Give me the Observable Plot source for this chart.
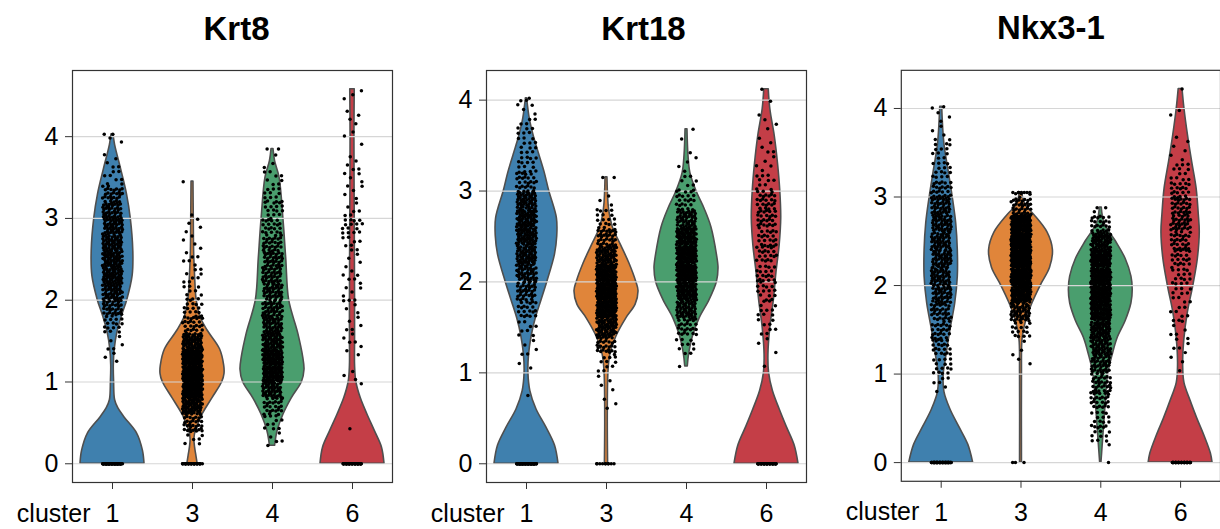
<!DOCTYPE html>
<html><head><meta charset="utf-8">
<script src="https://cdn.jsdelivr.net/npm/d3@7"></script>
<script src="https://cdn.jsdelivr.net/npm/@observablehq/plot@0.6"></script>
<style>
body{margin:0;background:#fff;width:1220px;height:529px;overflow:hidden;position:relative;font-family:"Liberation Sans",Arial,sans-serif}
.panel{position:absolute;top:0}
</style></head><body>
<div id="p0" class="panel" style="left:0px"></div>
<div id="p1" class="panel" style="left:410px"></div>
<div id="p2" class="panel" style="left:820px"></div>
<script>
// ---- categories / labels ----
const genes = ["Krt8", "Krt18", "Nkx3-1"];
const clusters = ["1", "3", "4", "6"];
const groupLabel = "cluster";
const yTicks = [0, 1, 2, 3, 4];
const colors = ["#3f80ae", "#e0853a", "#4a9e6e", "#c43e47"];

// ---- violin outlines: [expression, relative half-width] ----
const krt8Violins = [
  [[0,1.0],[0.16,0.95],[0.37,0.77],[0.57,0.37],[0.68,0.18],[0.78,0.08],[1.0,0.05],[1.2,0.04],[1.4,0.07],[1.6,0.15],[1.8,0.29],[2.0,0.46],[2.3,0.63],[2.6,0.65],[3.0,0.57],[3.3,0.45],[3.6,0.27],[3.9,0.08],[4.03,0.03]],
  [[0,0.16],[0.1,0.12],[0.2,0.08],[0.3,0.06],[0.4,0.1],[0.5,0.2],[0.6,0.31],[0.8,0.62],[1.0,0.93],[1.1,1.0],[1.2,0.99],[1.4,0.86],[1.63,0.47],[1.8,0.24],[2.0,0.13],[2.3,0.08],[2.6,0.05],[3.0,0.04],[3.45,0.03]],
  [[0.22,0.08],[0.4,0.16],[0.6,0.34],[0.8,0.6],[1.0,0.92],[1.15,1.0],[1.3,0.96],[1.6,0.8],[2.0,0.52],[2.5,0.43],[3.0,0.34],[3.5,0.22],[3.7,0.08],[3.85,0.03]],
  [[0,1.0],[0.2,0.92],[0.4,0.7],[0.6,0.47],[0.8,0.26],[1.0,0.12],[1.2,0.08],[1.5,0.08],[2.0,0.08],[3.0,0.07],[4.0,0.06],[4.58,0.07]]
];
const krt18Violins = [
  [[0,1.0],[0.2,0.89],[0.4,0.62],[0.6,0.31],[0.8,0.12],[1.0,0.06],[1.2,0.08],[1.4,0.16],[1.6,0.29],[1.8,0.47],[2.0,0.65],[2.3,0.89],[2.5,0.96],[2.7,0.95],[3.0,0.71],[3.2,0.57],[3.4,0.4],[3.6,0.23],[3.8,0.1],[4.02,0.02]],
  [[0,0.05],[0.5,0.04],[1.0,0.06],[1.2,0.12],[1.4,0.31],[1.6,0.62],[1.75,0.91],[1.9,1.0],[2.0,0.93],[2.2,0.72],[2.4,0.46],[2.6,0.2],[2.8,0.08],[3.15,0.03]],
  [[1.07,0.04],[1.2,0.08],[1.4,0.2],[1.6,0.41],[1.8,0.72],[2.0,0.95],[2.15,1.0],[2.3,0.95],[2.6,0.78],[2.8,0.57],[3.0,0.31],[3.2,0.12],[3.4,0.06],[3.68,0.03]],
  [[0,1.0],[0.2,0.88],[0.4,0.64],[0.6,0.41],[0.8,0.2],[1.0,0.08],[1.2,0.06],[1.5,0.12],[1.8,0.23],[2.1,0.31],[2.4,0.41],[2.7,0.46],[3.0,0.43],[3.3,0.36],[3.6,0.26],[3.9,0.12],[4.12,0.07]]
];
const nkxViolins = [
  [[0,1.0],[0.2,0.85],[0.4,0.57],[0.6,0.29],[0.8,0.1],[1.0,0.08],[1.2,0.16],[1.5,0.29],[1.8,0.44],[2.1,0.52],[2.4,0.52],[2.7,0.47],[3.0,0.36],[3.3,0.23],[3.6,0.1],[4.02,0.03]],
  [[0,0.03],[1.0,0.03],[1.4,0.05],[1.6,0.16],[1.8,0.36],[2.0,0.62],[2.2,0.91],[2.4,1.0],[2.6,0.83],[2.8,0.41],[2.9,0.16],[3.05,0.03]],
  [[0,0.02],[0.2,0.06],[0.4,0.1],[0.7,0.16],[1.0,0.23],[1.2,0.36],[1.4,0.52],[1.6,0.78],[1.8,0.96],[1.95,1.0],[2.1,0.96],[2.3,0.78],[2.5,0.47],[2.7,0.12],[2.88,0.03]],
  [[0,1.0],[0.1,0.95],[0.3,0.75],[0.5,0.52],[0.7,0.31],[0.9,0.12],[1.1,0.08],[1.4,0.12],[1.7,0.23],[2.0,0.4],[2.3,0.54],[2.6,0.6],[2.8,0.57],[3.1,0.5],[3.4,0.36],[3.7,0.23],[4.0,0.12],[4.22,0.06]]
];

// ---- cell dots: counts per 0.2-wide bin (from bin start), plus cells at exactly 0 ----
const binWidth = 0.2;
const krt8DotStart = [1.2, 0.2, 0.2, 0.4];
const krt8DotCounts = [
  [3,5,15,35,45,55,55,50,45,40,30,8,5,2,2],
  [8,30,60,90,100,90,60,25,15,10,8,6,4,4,1,0,1],
  [5,10,25,45,70,70,55,45,40,40,38,35,30,20,15,12,8,3,2],
  [1,0,1,3,2,5,5,5,5,6,4,8,15,6,5,5,4,1,3,3,3]
];
const krt8Zeros = [60, 30, 0, 40];
const krt18DotStart = [0.6, 0.6, 1.0, 1.0];
const krt18DotCounts = [
  [1,0,2,5,8,20,35,45,55,60,60,50,25,15,12,10,6,1],
  [3,4,10,30,60,90,100,90,60,35,15,3,2],
  [1,10,25,50,70,85,85,70,45,20,8,4,2,1],
  [1,3,8,10,15,18,20,20,25,25,10,5,5,3,2,1]
];
const krt18Zeros = [60, 10, 0, 40];
const nkxDotStart = [0.8, 1.0, 0.2, 1.0];
const nkxDotCounts = [
  [6,15,20,25,30,40,45,45,45,45,40,25,15,10,6,3,2],
  [2,3,15,45,80,110,130,120,90,35,10],
  [12,15,25,30,40,50,60,80,90,90,80,60,25,3],
  [3,5,6,8,10,15,20,25,35,30,20,10,4,2,2,0,1]
];
const nkxZeros = [60, 3, 1, 40];

const geneViolins = [krt8Violins, krt18Violins, nkxViolins];
const geneDotStart = [krt8DotStart, krt18DotStart, nkxDotStart];
const geneDotCounts = [krt8DotCounts, krt18DotCounts, nkxDotCounts];
const geneZeros = [krt8Zeros, krt18Zeros, nkxZeros];

// ---- layout (styling only) ----
const layout = [
  {id: "p0", width: 410, ml: 72, mr: 18, tdx: 4},
  {id: "p1", width: 410, ml: 76, mr: 14, tdx: -3},
  {id: "p2", width: 401, ml: 81, mr: 0, tdx: -10}
];

const frac = v => v - Math.floor(v);
const jitterHalf = 0.125;
const halfWidth = 0.4;

function buildDots(gi) {
  const out = [];
  let k = 0;
  geneDotCounts[gi].forEach((counts, ci) => {
    const prof = geneViolins[gi][ci];
    const lo = prof[0][0], hi = prof[prof.length - 1][0];
    const start = geneDotStart[gi][ci];
    counts.forEach((n, b) => {
      for (let i = 0; i < n; i++) {
        k++;
        let v = start + binWidth * (b + frac(k * 0.7548776662));
        v = Math.max(lo, Math.min(hi, v));
        out.push({ci, x: ci + (frac(k * 0.5698402910) - 0.5) * 2 * jitterHalf, y: v});
      }
    });
    for (let i = 0; i < geneZeros[gi][ci]; i++) {
      k++;
      out.push({ci, x: ci + (frac(k * 0.5698402910) - 0.5) * 2 * jitterHalf, y: 0});
    }
  });
  return out;
}

function panel(gi) {
  const L = layout[gi];
  const profiles = geneViolins[gi];
  const ymax = d3.max(profiles.flat(), d => d[0]);
  const violins = profiles.flatMap((p, ci) => p.map(([v, w]) => ({ci, v, w})));
  const dots = buildDots(gi);
  return Plot.plot({
    width: L.width, height: 529,
    marginLeft: L.ml, marginRight: L.mr, marginTop: 70, marginBottom: 47,
    x: {domain: [-0.5, 3.5], label: null},
    y: {domain: [-0.05 * ymax, 1.05 * ymax], label: null},
    color: {type: "ordinal", domain: [0, 1, 2, 3], range: colors},
    style: {fontFamily: '"Liberation Sans", Arial, sans-serif', fontSize: "25px", color: "#000", background: "transparent", overflow: "visible"},
    marks: [
      Plot.areaX(violins, {
        y: "v",
        x1: d => d.ci - d.w * halfWidth,
        x2: d => d.ci + d.w * halfWidth,
        z: "ci", fill: "ci", stroke: "#4f4f4f", strokeWidth: 1.6,
        curve: "catmull-rom"
      }),
      Plot.gridY({ticks: yTicks, stroke: "#d6d6d6", strokeOpacity: 1, strokeWidth: 1.2}),
      Plot.dot(dots, {x: "x", y: "y", r: 1.75, fill: "#000", stroke: null}),
      Plot.frame({stroke: "#333", strokeWidth: 1.2}),
      Plot.axisY({ticks: yTicks, tickFormat: d => String(d), tickSize: 7, tickPadding: 7, fontSize: 25, label: null, stroke: "#333"}),
      Plot.axisX({ticks: [0, 1, 2, 3], tickFormat: i => clusters[i], tickSize: 7, tickPadding: 15, fontSize: 25, label: null, stroke: "#333"}),
      Plot.text([groupLabel], {x: [0], frameAnchor: "bottom", lineAnchor: "bottom", dy: 39, dx: -22, textAnchor: "end", fontSize: 25, fill: "#000"}),
      Plot.text([genes[gi]], {frameAnchor: "top", lineAnchor: "bottom", dy: -31, dx: L.tdx, fontSize: 33, fontWeight: "bold", fill: "#000"})
    ]
  });
}

genes.forEach((g, gi) => {
  document.getElementById(layout[gi].id).appendChild(panel(gi));
});
</script>
</body></html>
